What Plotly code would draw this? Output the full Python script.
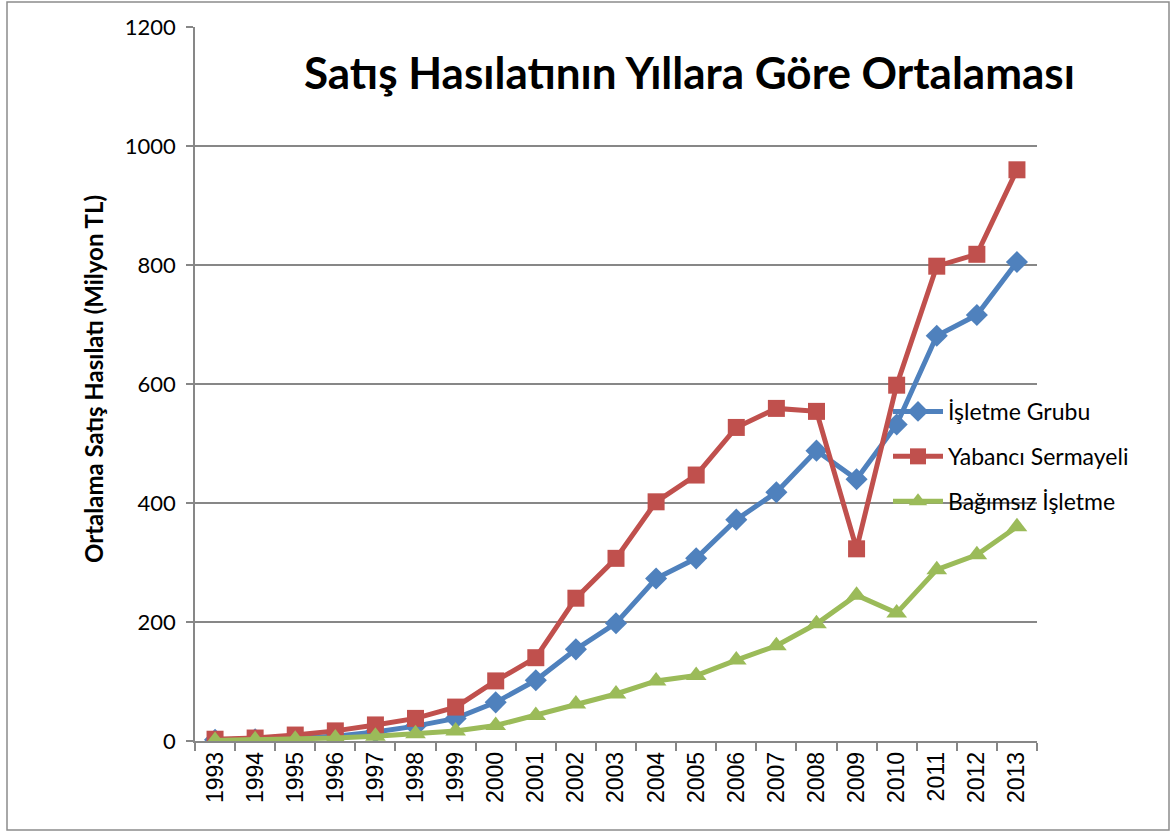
import plotly.graph_objects as go

years = [str(y) for y in range(1993, 2014)]
isletme_grubu = [2, 3, 5, 8, 15, 25, 38, 65, 102, 154, 198, 273, 307, 372, 418, 488, 440, 532, 681, 716, 805]
yabanci_sermayeli = [3, 5, 10, 17, 27, 38, 57, 101, 140, 240, 307, 402, 447, 527, 559, 554, 323, 598, 798, 818, 960]
bagimsiz_isletme = [1, 2, 3, 5, 8, 12, 17, 26, 43, 62, 79, 101, 110, 136, 160, 197, 245, 215, 288, 313, 360]

y_ticks = [0, 200, 400, 600, 800, 1000, 1200]

BLUE = "#4F81BD"
RED = "#C0504D"
GREEN = "#9BBB59"
GRID = "#878787"

fig = go.Figure()
fig.add_trace(go.Scatter(x=years, y=isletme_grubu, name="İşletme Grubu", mode="lines+markers",
                         line=dict(color=BLUE, width=5),
                         marker=dict(symbol="diamond", size=17, color=BLUE),
                         legendgroup="a"))
fig.add_trace(go.Scatter(x=years, y=yabanci_sermayeli, name="Yabancı Sermayeli", mode="lines+markers",
                         line=dict(color=RED, width=5),
                         marker=dict(symbol="square", size=17, color=RED),
                         legendgroup="b"))
fig.add_trace(go.Scatter(x=years, y=bagimsiz_isletme, name="Bağımsız İşletme", mode="lines+markers",
                         line=dict(color=GREEN, width=5),
                         marker=dict(symbol="triangle-up", size=18, color=GREEN),
                         legendgroup="c"))

W, H = 1171, 831
L, R, T, B = 195, 134, 27, 90
pw = W - L - R
ph = H - T - B

def px(xp):
    return (xp - L) / pw

def py(yp):
    return (H - B - yp) / ph

fig.update_layout(
    width=W, height=H,
    margin=dict(l=L, r=R, t=T, b=B, autoexpand=False),
    paper_bgcolor="white", plot_bgcolor="white",
    font=dict(family="Lato, Liberation Sans, sans-serif", color="black"),
    showlegend=True,
    legend=dict(x=px(888), y=py(390), xanchor="left", yanchor="top",
                bgcolor="rgba(0,0,0,0)", font=dict(size=23, family="Lato, sans-serif"),
                tracegroupgap=12, itemwidth=50),
    xaxis=dict(type="category", tickson="boundaries", ticks="outside", ticklen=8,
               tickcolor=GRID, tickwidth=1.5, showline=True, linecolor=GRID, linewidth=1.5,
               showgrid=False, tickangle=-90,
               tickfont=dict(size=23, family="Liberation Sans, Arial, sans-serif"),
               range=[-0.5, 20.5]),
    yaxis=dict(range=[0, 1200], tickvals=y_ticks, ticks="outside", ticklen=7,
               tickcolor=GRID, tickwidth=1.5, showline=True, linecolor=GRID, linewidth=1.5,
               showgrid=True, gridcolor=GRID, gridwidth=1.5, zeroline=False,
               tickfont=dict(size=22, family="Lato, sans-serif"), ticklabelstandoff=6),
    annotations=[
        dict(text="<b>Satış Hasılatının Yıllara Göre Ortalaması</b>", x=px(689), y=py(72),
             xref="paper", yref="paper", xanchor="center", yanchor="middle", showarrow=False,
             font=dict(size=44, family="Lato, sans-serif", color="black")),
        dict(text="<b>Ortalama Satış Hasılatı (Milyon TL)</b>", x=px(93), y=py(379),
             xref="paper", yref="paper", xanchor="center", yanchor="middle", showarrow=False,
             textangle=-90, font=dict(size=24, family="Lato, sans-serif", color="black")),
    ],
    shapes=[
        dict(type="rect", xref="paper", yref="paper", x0=px(7), x1=px(1169), y0=py(830), y1=py(2),
             line=dict(color="#8C8C8C", width=1.5), fillcolor="rgba(0,0,0,0)", layer="below"),
    ],
)

fig.write_html("out.html", config={"displayModeBar": False},
               post_script="document.body.style.margin='0px';document.body.style.overflow='hidden';")
